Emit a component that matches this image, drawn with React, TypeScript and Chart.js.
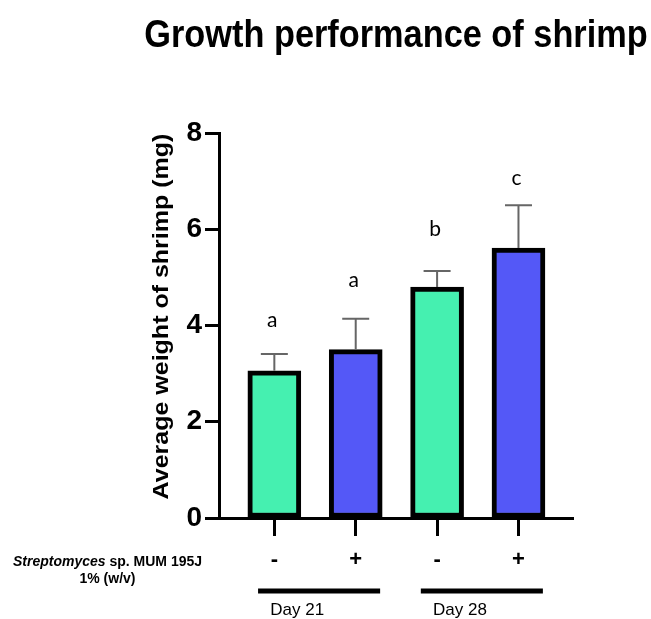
import { useEffect, useRef } from 'react';
import { Chart, registerables } from 'chart.js';

Chart.register(...registerables);

const chartTitle = 'Growth performance of shrimp';
const yAxisTitle = 'Average weight of shrimp (mg)';
const treatmentLabelItalic = 'Streptomyces';
const treatmentLabelRest = ' sp. MUM 195J';
const treatmentLabelLine2 = '1% (w/v)';
const positions = [0, 1, 2, 3];
const treatmentSigns = ['-', '+', '-', '+'];
const meanWeights = [3.06, 3.5, 4.8, 5.61];
const errorTops = [3.41, 4.14, 5.13, 6.5];
const letters = ['a', 'a', 'b', 'c'];
const letterHeights = [3.97, 4.8, 5.86, 6.92];
const yTicks = [0, 2, 4, 6, 8];
const dayGroups = ['Day 21', 'Day 28'];
const dayGroupMembers = [[0, 1], [2, 3]];

const GREEN = '#45F0B0';
const BLUE = '#5458F7';
const barColors = [GREEN, BLUE, GREEN, BLUE];
const FONT = '"Liberation Sans", Arial, sans-serif';

const overlayPlugin = {
  id: 'overlay',
  afterDatasetsDraw(chart: any) {
    const ctx = chart.ctx;
    const x = chart.scales.x;
    const y = chart.scales.y;
    ctx.save();
    ctx.strokeStyle = '#666666';
    ctx.lineWidth = 2;
    positions.forEach((p, i) => {
      const px = x.getPixelForValue(p);
      const top = y.getPixelForValue(errorTops[i]);
      const base = y.getPixelForValue(meanWeights[i]);
      ctx.beginPath();
      ctx.moveTo(px, base);
      ctx.lineTo(px, top);
      ctx.moveTo(px - 13.5, top);
      ctx.lineTo(px + 13.5, top);
      ctx.stroke();
    });
    ctx.fillStyle = '#000';
    ctx.font = '21px Lato, "Open Sans", sans-serif';
    ctx.textAlign = 'center';
    ctx.textBaseline = 'alphabetic';
    positions.forEach((p, i) => {
      ctx.fillText(letters[i], x.getPixelForValue(p) - 2, y.getPixelForValue(letterHeights[i]));
    });
    ctx.restore();
  },
  afterDraw(chart: any) {
    const ctx = chart.ctx;
    const ca = chart.chartArea;
    const x = chart.scales.x;
    ctx.save();
    ctx.fillStyle = '#000';
    // title
    ctx.font = `bold 39px ${FONT}`;
    ctx.textAlign = 'center';
    ctx.textBaseline = 'alphabetic';
    ctx.save();
    ctx.translate((ca.left + ca.right) / 2, 47);
    ctx.scale(0.88, 1);
    ctx.fillText(chartTitle, 0, 0);
    ctx.restore();
    // y axis title
    ctx.save();
    ctx.font = `bold 25px ${FONT}`;
    ctx.translate(162, (ca.top + ca.bottom) / 2 - 9);
    ctx.rotate(-Math.PI / 2);
    ctx.scale(1, 0.9);
    ctx.textAlign = 'center';
    ctx.textBaseline = 'middle';
    ctx.fillText(yAxisTitle, 0, 0);
    ctx.restore();
    // treatment label
    ctx.textBaseline = 'middle';
    ctx.textAlign = 'left';
    ctx.font = `italic bold 14px ${FONT}`;
    const w1 = ctx.measureText(treatmentLabelItalic).width;
    ctx.font = `bold 14px ${FONT}`;
    const w2 = ctx.measureText(treatmentLabelRest).width;
    const cx = 107.5;
    const sx = cx - (w1 + w2) / 2;
    ctx.font = `italic bold 14px ${FONT}`;
    ctx.fillText(treatmentLabelItalic, sx, 562);
    ctx.font = `bold 14px ${FONT}`;
    ctx.fillText(treatmentLabelRest, sx + w1, 562);
    ctx.textAlign = 'center';
    ctx.fillText(treatmentLabelLine2, cx, 579);
    // day group lines and labels
    ctx.strokeStyle = '#000';
    ctx.lineWidth = 5;
    ctx.textAlign = 'left';
    ctx.font = `17px ${FONT}`;
    dayGroups.forEach((g, i) => {
      const [a, b] = dayGroupMembers[i];
      const x1 = x.getPixelForValue(a - 0.2);
      const x2 = x.getPixelForValue(b + 0.3);
      ctx.beginPath();
      ctx.moveTo(x1, 591);
      ctx.lineTo(x2, 591);
      ctx.stroke();
      ctx.fillText(g, x.getPixelForValue(a - 0.05), 610);
    });
    ctx.restore();
  },
};

export default function App() {
  const ref = useRef<HTMLCanvasElement>(null);
  useEffect(() => {
    if (!ref.current) return;
    const chart = new Chart(ref.current, {
      type: 'bar',
      data: {
        datasets: [
          {
            data: positions.map((p, i) => ({ x: p, y: meanWeights[i] })),
            backgroundColor: barColors,
            borderColor: '#000',
            borderWidth: 5,
            borderSkipped: false,
            barThickness: 53,
          } as any,
        ],
      },
      options: {
        animation: false,
        responsive: false,
        maintainAspectRatio: false,
        layout: { padding: { top: 133, right: 78, bottom: 41, left: 150 } },
        plugins: {
          legend: { display: false },
          tooltip: { enabled: false },
          title: { display: false },
        },
        scales: {
          x: {
            type: 'linear',
            min: -0.68,
            max: 3.67,
            offset: false,
            afterBuildTicks: (s: any) => {
              s.ticks = positions.map((v) => ({ value: v }));
            },
            afterFit: (s: any) => {
              s.height = 60;
            },
            grid: {
              offset: false,
              drawOnChartArea: false,
              drawTicks: true,
              tickLength: 18,
              tickWidth: 3,
              tickColor: '#000',
            },
            border: { display: true, color: '#000', width: 3 },
            ticks: {
              callback: (v: any) => treatmentSigns[v] ?? '',
              font: { family: FONT, size: 22, weight: 'bold' },
              color: '#000',
              padding: 11,
              maxRotation: 0,
              autoSkip: false,
            },
          },
          y: {
            min: 0,
            max: 8,
            afterBuildTicks: (s: any) => {
              s.ticks = yTicks.map((v) => ({ value: v }));
            },
            afterFit: (s: any) => {
              s.width = 69;
            },
            grid: {
              drawOnChartArea: false,
              tickLength: 14,
              tickWidth: 3,
              tickColor: '#000',
            },
            border: { display: true, color: '#000', width: 3 },
            ticks: {
              font: { family: FONT, size: 28, weight: 'bold' },
              color: '#000',
              padding: 3,
            },
          },
        } as any,
      },
      plugins: [overlayPlugin],
    });
    return () => chart.destroy();
  }, []);
  return (
    <div style={{ position: 'absolute', left: 0, top: 0, width: 651, height: 619, background: '#fff' }}>
      <canvas ref={ref} width={651} height={619} style={{ display: 'block', width: 651, height: 619 }} />
    </div>
  );
}
